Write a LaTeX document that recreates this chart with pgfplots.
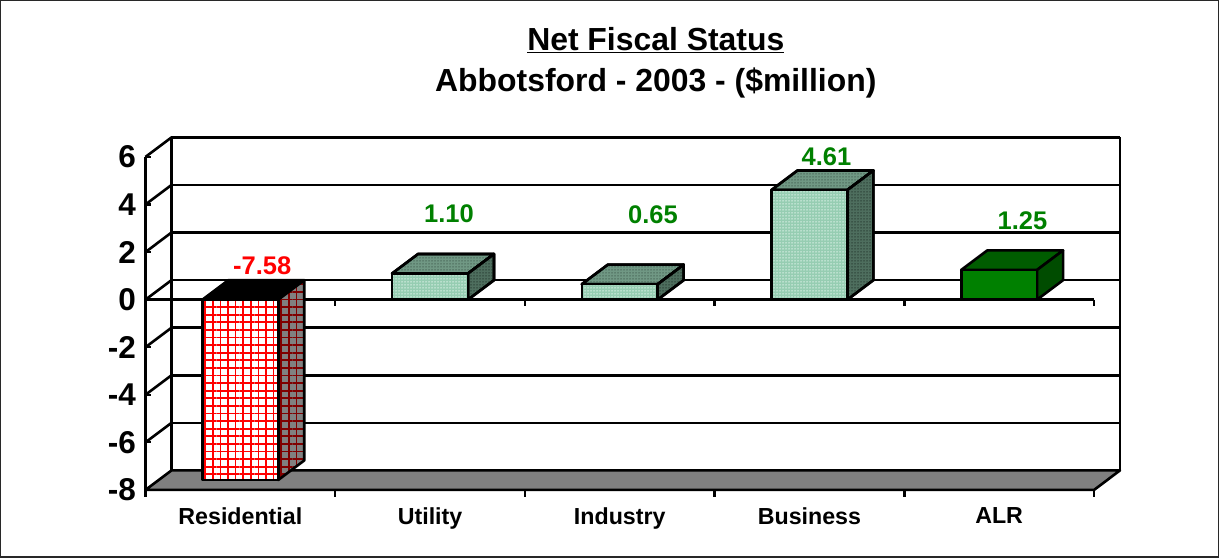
\documentclass[border=0pt]{standalone}
\usepackage{pgfplots}
\pgfplotsset{compat=1.18}
\usepackage{fontspec}
\setmainfont{Liberation Sans}
\usetikzlibrary{patterns.meta}
\definecolor{gfront}{RGB}{150,205,178}
\definecolor{gtop}{RGB}{112,152,132}
\definecolor{gside}{RGB}{78,110,94}
\definecolor{gfrontd}{RGB}{225,245,235}
\definecolor{gtopd}{RGB}{70,100,85}
\definecolor{gsided}{RGB}{40,60,50}
\definecolor{afront}{RGB}{0,128,0}
\definecolor{atop}{RGB}{0,92,0}
\definecolor{aside}{RGB}{0,76,0}
\definecolor{lbl}{RGB}{0,128,0}
\definecolor{dred}{RGB}{128,0,0}
\definecolor{floorg}{RGB}{128,128,128}
\definecolor{framec}{RGB}{40,40,40}
\tikzset{
  edge/.style={draw=black,line width=2.6pt,line join=round},
  wall/.style={black,line width=2.6pt},
  hlines/.style={draw=none,pattern={Lines[distance=7.6pt,angle=0,line width=1.7pt]},pattern color=#1},
  vlines/.style={draw=none,pattern={Lines[distance=7.6pt,angle=90,line width=1.7pt]},pattern color=#1},
  gf/.style={fill=gfront,edge,postaction={pattern={Dots[distance=3pt,radius=0.75pt]},pattern color=gfrontd}},
  gt/.style={fill=gtop,edge,postaction={pattern={Dots[distance=3pt,radius=0.75pt]},pattern color=gtopd}},
  gs/.style={fill=gside,edge,postaction={pattern={Dots[distance=3pt,radius=0.75pt]},pattern color=gsided}},
  val/.style={font=\fontsize{25.5}{27}\selectfont\bfseries},
  ttl/.style={font=\fontsize{31.9}{33}\selectfont\bfseries},
}
\begin{document}
\begin{tikzpicture}
\begin{axis}[
  scale only axis,
  width=948.5pt, height=333pt,
  xmin=0, xmax=5, ymin=-8, ymax=6,
  clip=false,
  axis x line*=bottom, axis y line*=left,
  axis line style={line width=2.4pt,-},
  xtick={0.5,1.5,2.5,3.5,4.5},
  xticklabels={Residential,Utility,Industry,Business,ALR},
  major x tick style={draw=none},
  x tick label style={font=\fontsize{23.2}{24}\selectfont\bfseries, yshift=-14pt},
  ytick={-8,-6,-4,-2,0,2,4,6},
  y tick label style={font=\fontsize{31.5}{32}\selectfont\bfseries, xshift=-6pt},
  /pgf/number format/assume math mode=true,
  major tick length=6pt,
  tick style={line width=2.2pt,black},
]
% back wall gridlines
\addplot[wall] coordinates {(0.137,6.82)(5.137,6.82)};
\addplot[wall] coordinates {(0.137,4.82)(5.137,4.82)};
\addplot[wall] coordinates {(0.137,2.82)(5.137,2.82)};
\addplot[wall] coordinates {(0.137,0.82)(5.137,0.82)};
\addplot[wall] coordinates {(0.137,-1.18)(5.137,-1.18)};
\addplot[wall] coordinates {(0.137,-3.18)(5.137,-3.18)};
\addplot[wall] coordinates {(0.137,-5.18)(5.137,-5.18)};
% walls
\addplot[wall] coordinates {(0.137,6.82)(0.137,-7.18)};
\addplot[wall] coordinates {(5.137,6.82)(5.137,-7.18)};
% left wall diagonals
\addplot[wall] coordinates {(0,6)(0.137,6.82)};
\addplot[wall] coordinates {(0,4)(0.137,4.82)};
\addplot[wall] coordinates {(0,2)(0.137,2.82)};
\addplot[wall] coordinates {(0,0)(0.137,0.82)};
\addplot[wall] coordinates {(0,-2)(0.137,-1.18)};
\addplot[wall] coordinates {(0,-4)(0.137,-3.18)};
\addplot[wall] coordinates {(0,-6)(0.137,-5.18)};
% floor
\addplot[fill=floorg,edge] coordinates {(0,-8)(0.137,-7.18)(5.137,-7.18)(5,-8)} --cycle;
% bottom ticks
\addplot[wall] coordinates {(0,-8)(0,-8.28)};
\addplot[wall] coordinates {(1,-8)(1,-8.28)};
\addplot[wall] coordinates {(2,-8)(2,-8.28)};
\addplot[wall] coordinates {(3,-8)(3,-8.28)};
\addplot[wall] coordinates {(4,-8)(4,-8.28)};
\addplot[wall] coordinates {(5,-8)(5,-8.28)};
% zero line and its ticks
\addplot[wall] coordinates {(0,0)(5,0)};
\addplot[wall] coordinates {(1,0)(1,-0.25)};
\addplot[wall] coordinates {(2,0)(2,-0.25)};
\addplot[wall] coordinates {(3,0)(3,-0.25)};
\addplot[wall] coordinates {(4,0)(4,-0.25)};
\addplot[wall] coordinates {(5,0)(5,-0.25)};
% Residential -7.58
\addplot[fill=black,edge] coordinates {(0.3,0)(0.437,0.82)(0.837,0.82)(0.7,0)} --cycle;
\addplot[fill=floorg,draw=none] coordinates {(0.7,0)(0.837,0.82)(0.837,-6.76)(0.7,-7.58)} --cycle;
\addplot[hlines=dred] coordinates {(0.7,0)(0.837,0.82)(0.837,-6.76)(0.7,-7.58)} --cycle;
\addplot[vlines=dred] coordinates {(0.7,0)(0.837,0.82)(0.837,-6.76)(0.7,-7.58)} --cycle;
\addplot[edge] coordinates {(0.7,0)(0.837,0.82)(0.837,-6.76)(0.7,-7.58)} --cycle;
\addplot[fill=white,draw=none] coordinates {(0.3,0)(0.7,0)(0.7,-7.58)(0.3,-7.58)} --cycle;
\addplot[hlines=red] coordinates {(0.3,0)(0.7,0)(0.7,-7.58)(0.3,-7.58)} --cycle;
\addplot[vlines=red] coordinates {(0.3,0)(0.7,0)(0.7,-7.58)(0.3,-7.58)} --cycle;
\addplot[edge] coordinates {(0.3,0)(0.7,0)(0.7,-7.58)(0.3,-7.58)} --cycle;
% Utility 1.10
\addplot[gt] coordinates {(1.3,1.10)(1.437,1.92)(1.837,1.92)(1.7,1.10)} --cycle;
\addplot[gs] coordinates {(1.7,0)(1.837,0.82)(1.837,1.92)(1.7,1.10)} --cycle;
\addplot[gf] coordinates {(1.3,0)(1.7,0)(1.7,1.10)(1.3,1.10)} --cycle;
% Industry 0.65
\addplot[gt] coordinates {(2.3,0.65)(2.437,1.47)(2.837,1.47)(2.7,0.65)} --cycle;
\addplot[gs] coordinates {(2.7,0)(2.837,0.82)(2.837,1.47)(2.7,0.65)} --cycle;
\addplot[gf] coordinates {(2.3,0)(2.7,0)(2.7,0.65)(2.3,0.65)} --cycle;
% Business 4.61
\addplot[gt] coordinates {(3.3,4.61)(3.437,5.43)(3.837,5.43)(3.7,4.61)} --cycle;
\addplot[gs] coordinates {(3.7,0)(3.837,0.82)(3.837,5.43)(3.7,4.61)} --cycle;
\addplot[gf] coordinates {(3.3,0)(3.7,0)(3.7,4.61)(3.3,4.61)} --cycle;
% ALR 1.25
\addplot[fill=atop,edge] coordinates {(4.3,1.25)(4.437,2.07)(4.837,2.07)(4.7,1.25)} --cycle;
\addplot[fill=aside,edge] coordinates {(4.7,0)(4.837,0.82)(4.837,2.07)(4.7,1.25)} --cycle;
\addplot[fill=afront,edge] coordinates {(4.3,0)(4.7,0)(4.7,1.25)(4.3,1.25)} --cycle;
% value labels
\node[val,text=red] at (axis cs:0.615,1.42) {-7.58};
\node[val,text=lbl] at (axis cs:1.60,3.60) {1.10};
\node[val,text=lbl] at (axis cs:2.675,3.57) {0.65};
\node[val,text=lbl] at (axis cs:3.59,6.02) {4.61};
\node[val,text=lbl] at (axis cs:4.623,3.31) {1.25};
% title
\node[ttl] at (axis cs:2.69,10.91) {\underline{Net Fiscal Status}};
\node[ttl] at (axis cs:2.69,9.09) {Abbotsford - 2003 - (\$million)};
% outer frame
\addplot[draw=framec,line width=1.5pt] coordinates {(-0.763,12.566)(5.655,12.566)(5.655,-10.825)(-0.763,-10.825)} --cycle;
\end{axis}
\end{tikzpicture}
\end{document}
